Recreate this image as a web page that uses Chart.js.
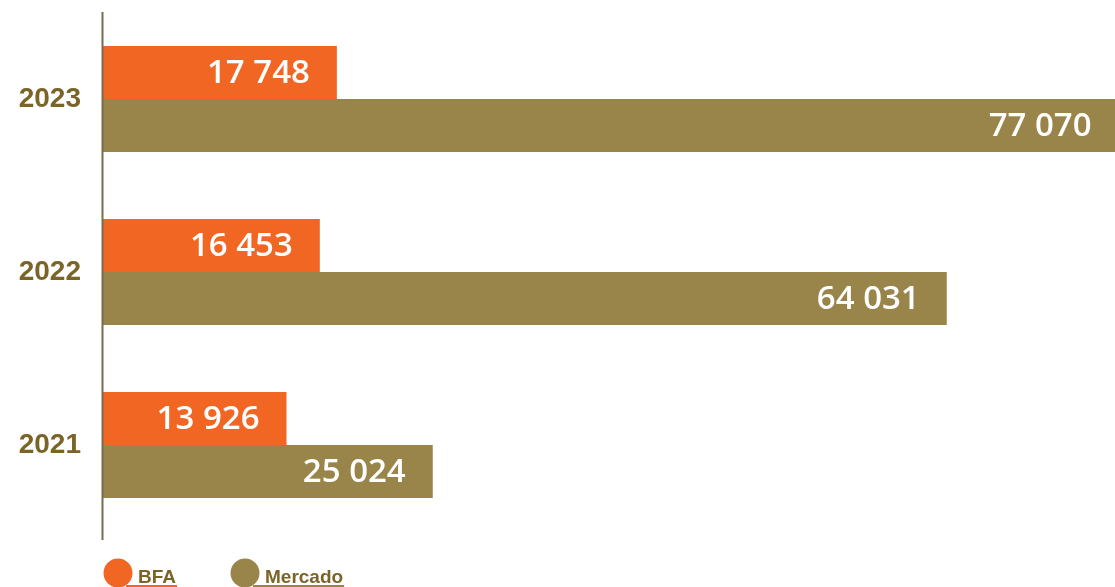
<!DOCTYPE html>
<html>
<head>
<meta charset="utf-8">
<script src="https://cdn.jsdelivr.net/npm/chart.js@4.4.1/dist/chart.umd.min.js"></script>
<style>
  html, body { margin: 0; padding: 0; background: #fff; }
  #wrap { width: 1115px; height: 587px; position: relative; }
</style>
</head>
<body>
<div id="wrap"><canvas id="chart"></canvas></div>
<script>
const years = ['2023', '2022', '2021'];
const bfa = [17748, 16453, 13926];
const mercado = [77070, 64031, 25024];
const seriesNames = ['BFA', 'Mercado'];

const ORANGE = '#F26624';
const OLIVE = '#99854A';
const LABEL = '#7A6427';

function fmt(v) {
    return String(v).replace(/\B(?=(\d{3})+(?!\d))/g, ' ');
}

// values written inside the bars, right aligned
const barLabels = {
    id: 'barLabels',
    afterDatasetsDraw(chart) {
        const ctx = chart.ctx;
        ctx.save();
        ctx.font = '600 33px "Open Sans"';
        ctx.fillStyle = '#fff';
        ctx.textAlign = 'right';
        ctx.textBaseline = 'middle';
        chart.data.datasets.forEach((ds, i) => {
            chart.getDatasetMeta(i).data.forEach((bar, j) => {
                ctx.fillText(fmt(ds.data[j]), bar.x - 27, bar.y + 1);
            });
        });
        ctx.restore();
    }
};

// axis line and bottom legend
const extras = {
    id: 'extras',
    afterDraw(chart) {
        const ctx = chart.ctx;
        const area = chart.chartArea;
        ctx.save();
        ctx.strokeStyle = '#7B6A4E';
        ctx.lineWidth = 2;
        ctx.beginPath();
        ctx.moveTo(area.left - 0.5, 12);
        ctx.lineTo(area.left - 0.5, 540);
        ctx.stroke();

        const items = [
            { name: seriesNames[0], color: ORANGE, x: 118 },
            { name: seriesNames[1], color: OLIVE, x: 245 }
        ];
        ctx.font = 'bold 19px "Liberation Sans Narrow", "Liberation Sans"';
        ctx.textAlign = 'left';
        ctx.textBaseline = 'alphabetic';
        items.forEach(it => {
            ctx.fillStyle = it.color;
            ctx.beginPath();
            ctx.arc(it.x, 573, 14.5, 0, Math.PI * 2);
            ctx.fill();
            const tx = it.x + 20;
            const w = ctx.measureText(it.name).width;
            ctx.fillStyle = LABEL;
            ctx.fillText(it.name, tx, 583);
            ctx.fillStyle = it.color;
            ctx.fillRect(it.x + 8, 585, tx + w - it.x - 7, 2);
        });
        ctx.restore();
    }
};

new Chart(document.getElementById('chart'), {
    type: 'bar',
    data: {
        labels: years,
        datasets: [
            { label: seriesNames[0], data: bfa, backgroundColor: ORANGE },
            { label: seriesNames[1], data: mercado, backgroundColor: OLIVE }
        ]
    },
    options: {
        indexAxis: 'y',
        responsive: true,
        maintainAspectRatio: false,
        animation: false,
        events: [],
        layout: { padding: { top: 12.5, bottom: 55.5, left: 0, right: 0 } },
        datasets: {
            bar: { categoryPercentage: 0.613, barPercentage: 1.0, borderWidth: 0 }
        },
        scales: {
            x: { display: false, min: 0, max: 76800 },
            y: {
                afterFit(scale) {
                    scale.width = 103;
                    scale.paddingTop = 0;
                    scale.paddingBottom = 0;
                },
                grid: { display: false },
                border: { display: false },
                ticks: {
                    color: LABEL,
                    font: { family: '"Liberation Sans", Arial', weight: 'bold', size: 28 },
                    padding: 14
                }
            }
        },
        plugins: {
            legend: { display: false },
            tooltip: { enabled: false }
        }
    },
    plugins: [barLabels, extras]
});
</script>
</body>
</html>
